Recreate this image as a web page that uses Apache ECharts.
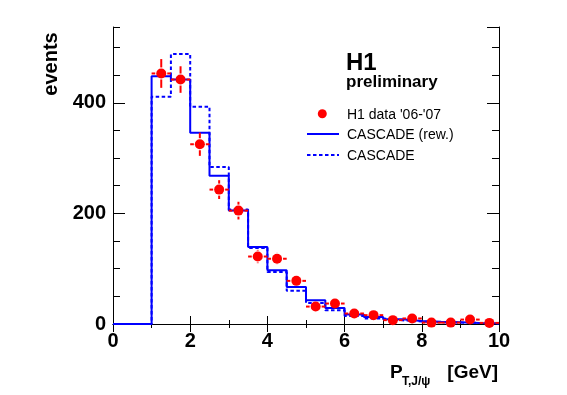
<!DOCTYPE html>
<html><head><meta charset="utf-8">
<script src="https://cdn.jsdelivr.net/npm/echarts@6/dist/echarts.min.js"></script>
<style>html,body{margin:0;padding:0;background:#fff}#c{width:567px;height:395px}</style>
</head><body><div id="c"></div>
<script>
// ---- data ----
const binEdges   = [0, 1, 1.5, 2, 2.5, 3, 3.5, 4, 4.5, 5, 5.5, 6, 6.5, 7, 7.5, 8, 8.5, 9, 9.5, 10];
const cascadeRew = [0, 448, 442, 346, 268, 205, 139, 97, 67, 43, 29, 17, 12.7, 8.5, 5.5, 4, 3, 2, 1.5];
const cascade    = [0, 411, 488, 393, 284, 207, 137.5, 94, 60, 38, 25, 14.5, 10, 6.7, 4.5, 3, 2.5, 2, 1];
const dataX      = [1.25, 1.75, 2.25, 2.75, 3.25, 3.75, 4.25, 4.75, 5.25, 5.75, 6.25, 6.75, 7.25, 7.75, 8.25, 8.75, 9.25, 9.75];
const dataY      = [453, 442, 325, 243, 205, 122, 118, 78, 31.5, 37, 19, 16, 7, 10, 2.5, 2.5, 8, 2];
const dataErr    = [26, 24, 21, 17, 16, 12, 11, 9, 6, 7, 5, 4, 3, 3, 2, 2, 3, 2];
const dataHalfW  = [0.25, 0.25, 0.25, 0.25, 0.25, 0.25, 0.25, 0.25, 0.25, 0.25, 0.25, 0.25, 0.25, 0.25, 0.25, 0.25, 0.25, 0.25];
const xTickLabels = [0, 2, 4, 6, 8, 10];
const yTickLabels = [0, 200, 400];
const yMax = 537;

const FONT = "'Liberation Sans', Arial, Helvetica, sans-serif";
function steps(vals) {
  const pts = [];
  vals.forEach((v, i) => { pts.push([binEdges[i], v]); pts.push([binEdges[i + 1], v]); });
  return pts;
}
const points = dataX.map((x, i) => [x, dataY[i], dataErr[i], dataHalfW[i]]);

const chart = echarts.init(document.getElementById('c'), null, {renderer: 'canvas'});
const xInt = xTickLabels[1] - xTickLabels[0];
const yInt = yTickLabels[1] - yTickLabels[0];
const axisLineStyle = {show: true, lineStyle: {color: '#000', width: 1}};
function xAx(pos, labels) {
  return {
    type: 'value', position: pos, min: xTickLabels[0], max: xTickLabels[xTickLabels.length - 1], interval: xInt,
    axisLine: axisLineStyle,
    axisTick: {show: true, inside: true, length: 8, lineStyle: {color: '#000', width: 1}},
    minorTick: {show: true, splitNumber: 2, length: 4, lineStyle: {color: '#000', width: 1}},
    axisLabel: {show: labels, margin: 7, color: '#000', fontSize: 20, fontWeight: 'bold', fontFamily: FONT},
    splitLine: {show: false}, minorSplitLine: {show: false}
  };
}
function yAx(pos, interval, len, labels, line) {
  return {
    type: 'value', position: pos, min: 0, max: yMax, interval: interval,
    axisLine: line ? axisLineStyle : {show: false},
    axisTick: {show: true, inside: true, length: len, lineStyle: {color: '#000', width: 1}},
    axisLabel: {show: labels, showMaxLabel: false, margin: 7, color: '#000', fontSize: 20, fontWeight: 'bold', fontFamily: FONT},
    splitLine: {show: false}
  };
}

chart.setOption({
  animation: false,
  backgroundColor: '#fff',
  grid: {left: 113, right: 68, top: 27, bottom: 71, containLabel: false},
  xAxis: [xAx('bottom', true), xAx('top', false)],
  yAxis: [
    yAx('left', yInt, 12, true, true),
    yAx('left', yInt / 4, 7, false, false),
    yAx('right', yInt, 12, false, true),
    yAx('right', yInt / 4, 7, false, false)
  ],
  series: [
    {
      type: 'line', name: 'CASCADE', data: steps(cascade), symbol: 'none', z: 2,
      lineStyle: {color: '#0000ff', width: 2, type: [3.5, 2.5]}
    },
    {
      type: 'line', name: 'CASCADE (rew.)', data: steps(cascadeRew), symbol: 'none', z: 3,
      lineStyle: {color: '#0000ff', width: 2}
    },
    {
      type: 'custom', name: 'err', data: points, z: 4,
      renderItem: function (params, api) {
        const x = api.value(0), y = api.value(1), e = api.value(2), hw = api.value(3);
        const c = api.coord([x, y]);
        const l = api.coord([x - hw, y]), r = api.coord([x + hw, y]);
        const t = api.coord([x, y + e]), b = api.coord([x, Math.max(0, y - e)]);
        const g = 6;
        const st = {stroke: '#ff0000', lineWidth: 2};
        const ch = [];
        function seg(x1, y1, x2, y2) { ch.push({type: 'line', shape: {x1, y1, x2, y2}, style: st}); }
        if (c[0] - l[0] > g) seg(l[0], c[1], c[0] - g, c[1]);
        if (r[0] - c[0] > g) seg(c[0] + g, c[1], r[0], c[1]);
        if (c[1] - t[1] > g) seg(c[0], t[1], c[0], c[1] - g);
        if (b[1] - c[1] > g) seg(c[0], c[1] + g, c[0], b[1]);
        return {type: 'group', children: ch};
      }
    },
    {
      type: 'scatter', name: "H1 data '06-'07", data: points.map(p => [p[0], p[1]]), z: 5,
      symbol: 'circle', symbolSize: 10, itemStyle: {color: '#ff0000', opacity: 1}
    }
  ],
  graphic: [
    {type: 'text', x: 346, y: 63, style: {text: 'H1', font: "bold 24px " + FONT, fill: '#000', align: 'left', verticalAlign: 'middle'}},
    {type: 'text', x: 346, y: 82.5, style: {text: 'preliminary', font: "bold 17px " + FONT, fill: '#000', align: 'left', verticalAlign: 'middle'}},
    {type: 'circle', shape: {cx: 322.3, cy: 113.7, r: 4.5}, style: {fill: '#ff0000'}},
    {type: 'text', x: 347, y: 115, style: {text: "H1 data '06-'07", font: "14px " + FONT, fill: '#000', align: 'left', verticalAlign: 'middle'}},
    {type: 'line', shape: {x1: 307, y1: 134, x2: 339, y2: 134}, style: {stroke: '#0000ff', lineWidth: 2}},
    {type: 'text', x: 347, y: 135.5, style: {text: 'CASCADE (rew.)', font: "14px " + FONT, fill: '#000', align: 'left', verticalAlign: 'middle'}},
    {type: 'line', shape: {x1: 307, y1: 155, x2: 339, y2: 155}, style: {stroke: '#0000ff', lineWidth: 2, lineDash: [3.5, 2.5]}},
    {type: 'text', x: 347, y: 156, style: {text: 'CASCADE', font: "14px " + FONT, fill: '#000', align: 'left', verticalAlign: 'middle'}},
    {type: 'text', x: 51.8, y: 64, rotation: Math.PI / 2, style: {text: 'events', font: "bold 20px " + FONT, fill: '#000', align: 'center', verticalAlign: 'middle'}},
    {type: 'text', x: 390, y: 373, style: {text: 'P', font: "bold 19px " + FONT, fill: '#000', align: 'left', verticalAlign: 'middle'}},
    {type: 'text', x: 402, y: 382, style: {text: 'T,J/ψ', font: "bold 12px " + FONT, fill: '#000', align: 'left', verticalAlign: 'middle'}},
    {type: 'text', x: 498, y: 373, style: {text: '[GeV]', font: "bold 19px " + FONT, fill: '#000', align: 'right', verticalAlign: 'middle'}}
  ]
});
</script>
</body></html>
